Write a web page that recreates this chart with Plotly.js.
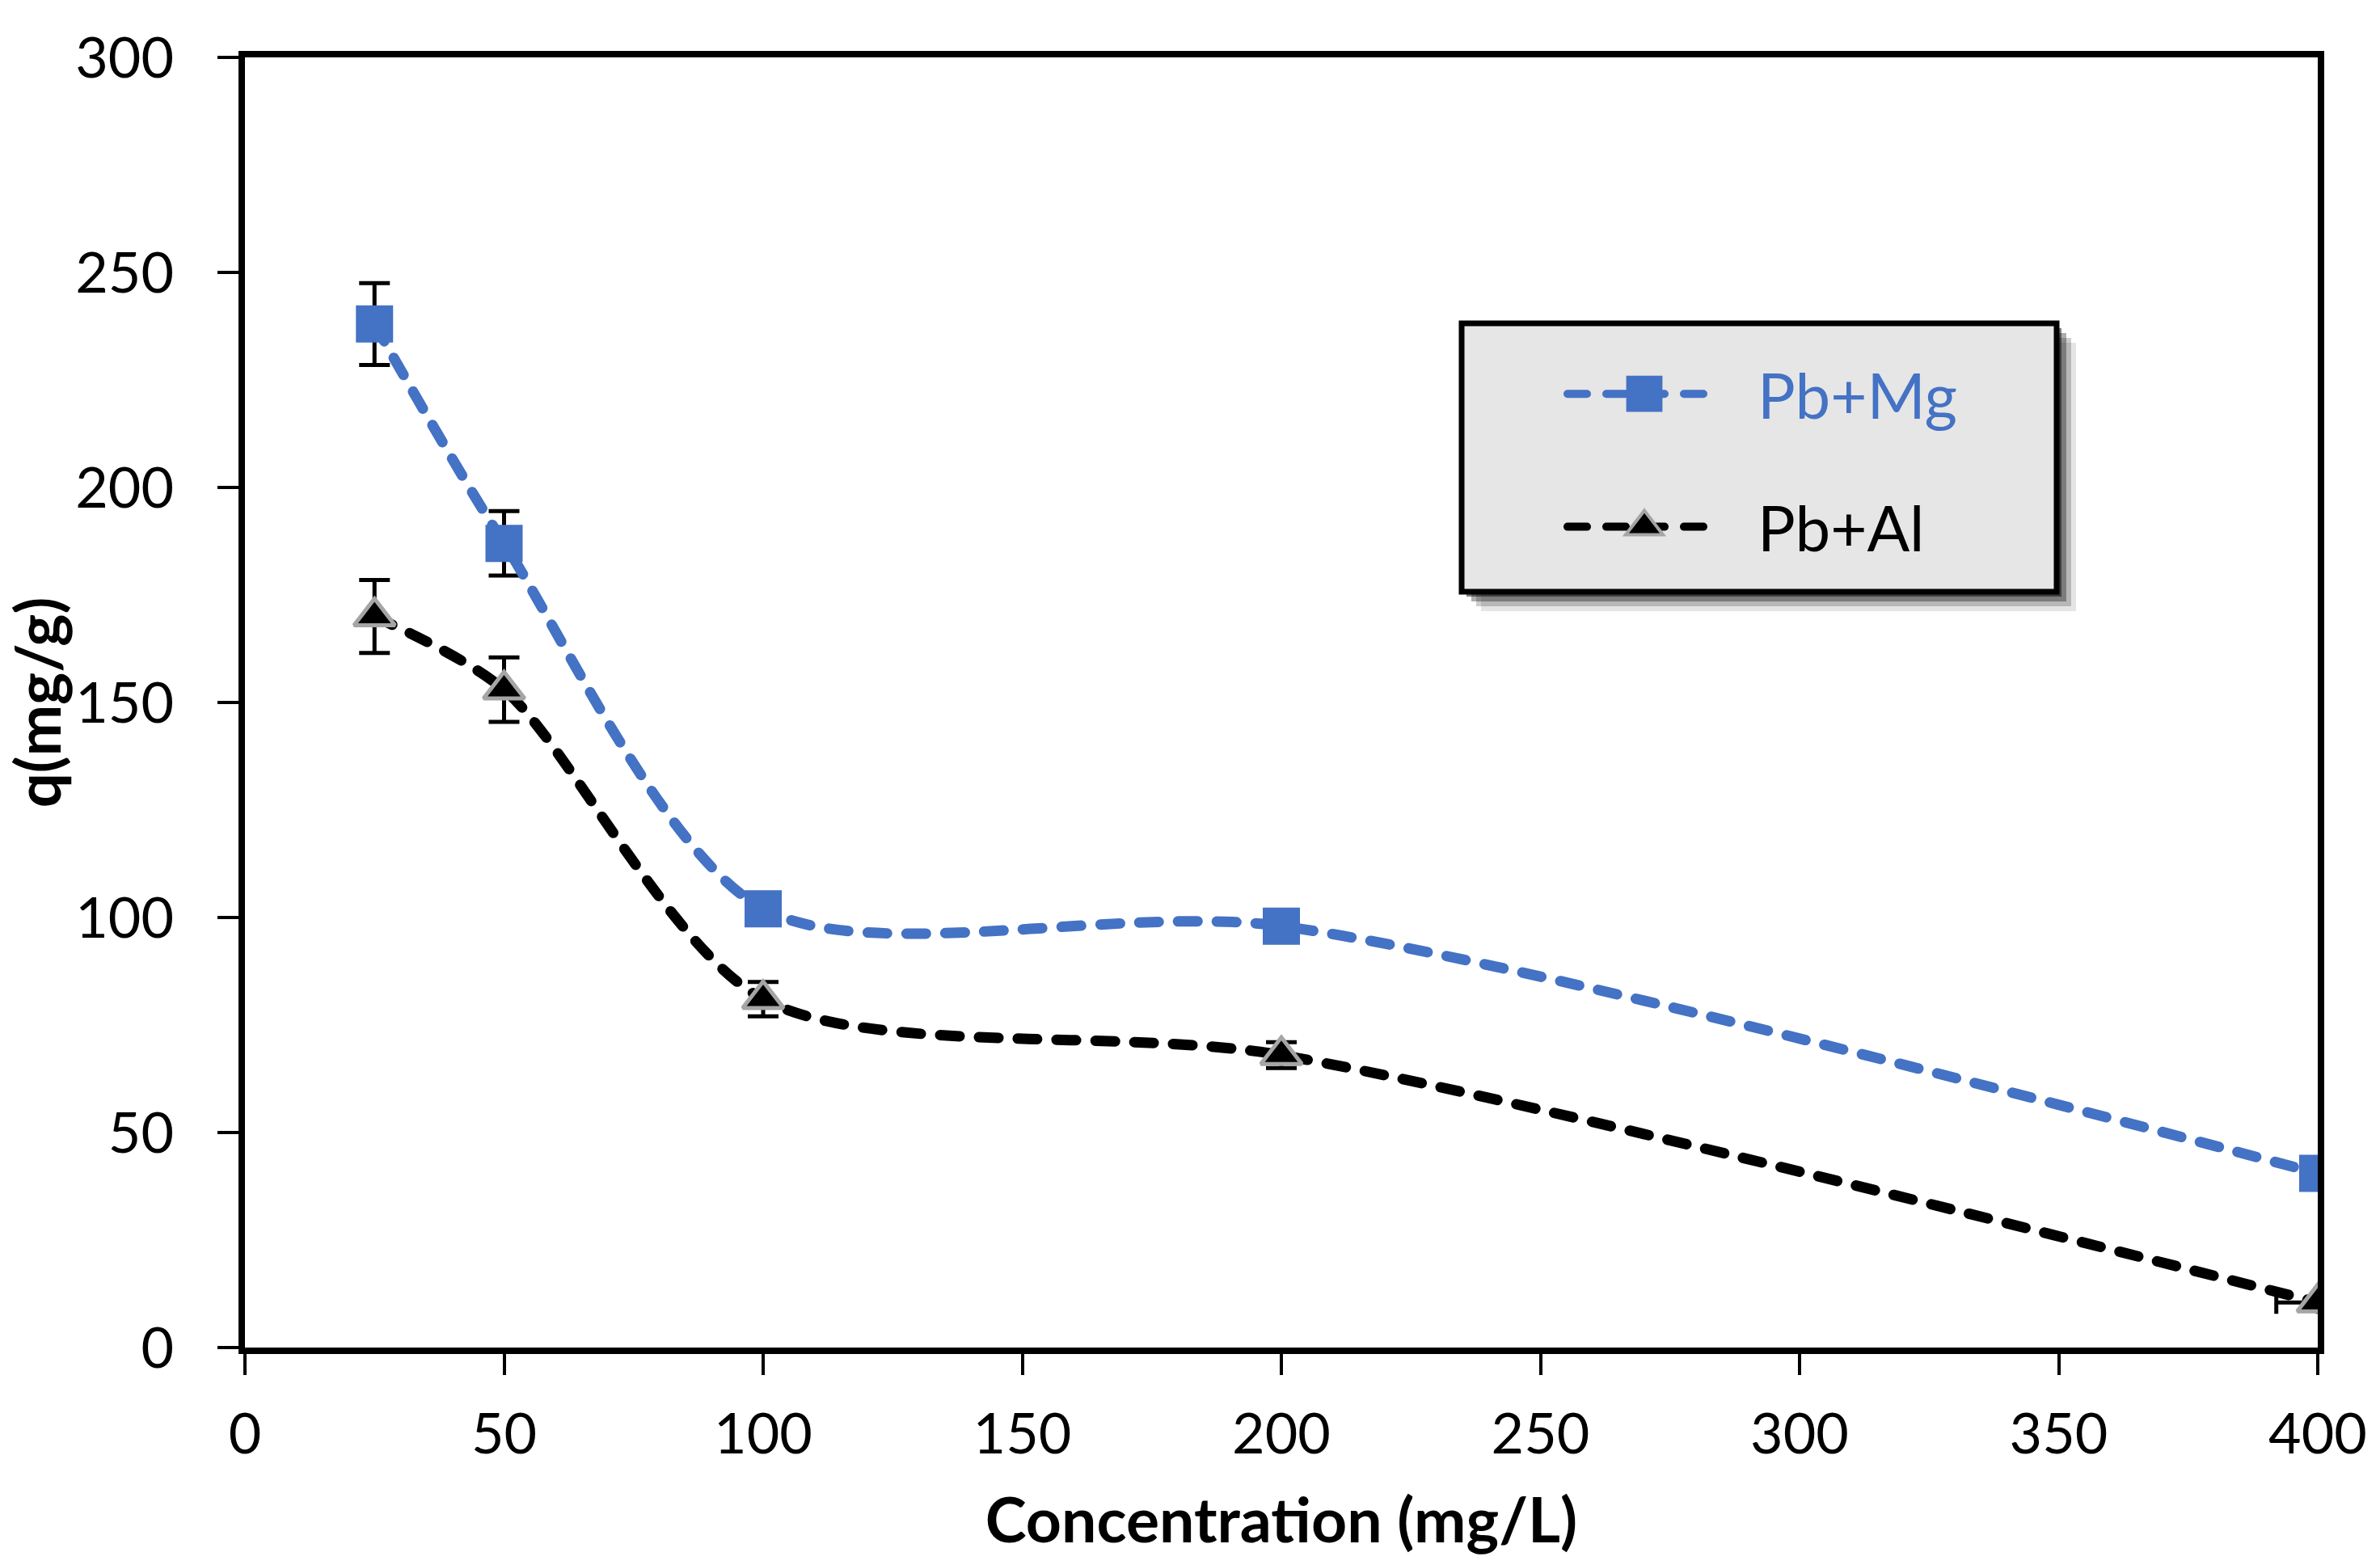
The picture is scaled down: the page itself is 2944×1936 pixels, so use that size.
<!DOCTYPE html>
<html>
<head>
<meta charset="utf-8">
<script src="https://cdn.plot.ly/plotly-3.0.1.min.js"></script>
<style>
  html, body { margin: 0; padding: 0; background: #fff; }
  #chart { width: 2944px; height: 1936px; }
</style>
</head>
<body>
<div id="chart"></div>
<script>
// concentration (mg/L)
var concentration = [25, 50, 100, 200, 400];
// q (mg/g)
var qPbMg = [238, 187, 102, 98, 40.5];
var errPbMg = [9.5, 7.5, 3, 2, 0];
var qPbAl = [170, 153, 81, 68, 10.5];
var errPbAl = [8.5, 7.5, 4, 3, 0];
var errXPbAlMinus = [0, 0, 0, 0, 8];
var errXPbAlPlus = [0, 0, 0, 0, 0];

var W = 2944, H = 1936;
var mL = 303, mR = 77, mT = 71, mB = 269;
var plotW = W - mL - mR, plotH = H - mT - mB;

// pixel -> paper helpers (for the legend frame only)
function px(x) { return (x - mL) / plotW; }
function py(y) { return (H - mB - y) / plotH; }

var font = 'Lato, "Open Sans", sans-serif';
var blue = '#4472C4';
var gap = '\u00a0\u00a0';

var traceMg = {
  x: concentration,
  y: qPbMg,
  name: gap + '<span style="color:' + blue + '">Pb+Mg</span>',
  legendgroup: 'mg',
  type: 'scatter',
  mode: 'lines+markers',
  line: { color: blue, width: 13, dash: '24px,24px', shape: 'spline', smoothing: 0.8 },
  marker: { symbol: 'square', size: 46, color: blue },
  error_y: { type: 'data', array: errPbMg, visible: true, color: '#000', thickness: 5, width: 19 }
};

var traceAl = {
  x: concentration,
  y: qPbAl,
  name: gap + 'Pb+Al',
  legendgroup: 'al',
  type: 'scatter',
  mode: 'lines+markers',
  line: { color: '#000', width: 13, dash: '24px,24px', shape: 'spline', smoothing: 0.8 },
  marker: { symbol: 'triangle-up', size: 44, color: '#000', line: { color: '#A5A5A5', width: 5 } },
  error_y: { type: 'data', array: errPbAl, visible: true, color: '#000', thickness: 5, width: 19 },
  error_x: { type: 'data', symmetric: false, array: errXPbAlPlus, arrayminus: errXPbAlMinus,
             visible: true, color: '#000', thickness: 5, width: 14 }
};

// legend frame with a soft drop shadow
var box = { x0: 1808, y0: 400, x1: 2544, y1: 732 };
var shapes = [];
[[24, 0.10], [18, 0.2], [12, 0.32], [6, 0.5]].forEach(function (s) {
  shapes.push({
    type: 'rect', xref: 'paper', yref: 'paper', layer: 'above',
    x0: px(box.x0 + s[0]), x1: px(box.x1 + s[0]),
    y0: py(box.y0 + s[0]), y1: py(box.y1 + s[0]),
    fillcolor: 'rgba(0,0,0,' + s[1] + ')', line: { width: 0 }
  });
});
shapes.push({
  type: 'rect', xref: 'paper', yref: 'paper', layer: 'above',
  x0: px(box.x0), x1: px(box.x1), y0: py(box.y0), y1: py(box.y1),
  fillcolor: '#E6E6E6', line: { color: '#000', width: 7 }
});

var axisCommon = {
  showgrid: false,
  zeroline: false,
  showline: true,
  mirror: true,
  linecolor: '#000',
  linewidth: 8,
  ticks: 'outside',
  ticklen: 26,
  tickwidth: 4,
  tickcolor: '#000',
  tickfont: { family: font, size: 70, color: '#000' }
};

var layout = {
  width: W,
  height: H,
  margin: { l: mL, r: mR, t: mT, b: mB, pad: 0 },
  paper_bgcolor: '#fff',
  plot_bgcolor: '#fff',
  showlegend: true,
  xaxis: Object.assign({}, axisCommon, {
    range: [0, 400],
    dtick: 50,
    ticklabelstandoff: 13,
    title: { text: 'Concentration (mg/L)', font: { family: font, size: 77, color: '#000', weight: 'bold' }, standoff: 45 }
  }),
  yaxis: Object.assign({}, axisCommon, {
    range: [0, 300],
    dtick: 50,
    ticklabelstandoff: 40,
    title: { text: 'q(mg/g)', font: { family: font, size: 76, color: '#000', weight: 'bold' }, standoff: 16 }
  }),
  legend: {
    x: px(1934), y: py(430), xanchor: 'left', yanchor: 'top',
    bgcolor: 'rgba(0,0,0,0)',
    borderwidth: 0,
    font: { family: font, size: 78, color: '#000' },
    itemwidth: 190,
    tracegroupgap: 60,
    traceorder: 'grouped'
  },
  shapes: shapes
};

Plotly.newPlot('chart', [traceMg, traceAl], layout, { staticPlot: true }).then(function (gd) {
  // rounded dash ends like the original
  gd.querySelectorAll('path.js-line').forEach(function (p) {
    p.style.strokeLinecap = 'round';
  });
  // legend symbols are capped at a small size by plotly; grow them to match the plot markers
  gd.querySelectorAll('.legend .legendpoints path.scatterpts').forEach(function (p) {
    var t = p.getAttribute('transform') || '';
    var isTri = (p.getAttribute('d') || '').indexOf('L0') >= 0;
    var k = isTri ? 2.5 : 2.8;
    p.setAttribute('transform', t + ' scale(' + k + ')');
    p.style.strokeWidth = (isTri ? 4 / k : 0) + 'px';
  });
});
</script>
</body>
</html>
